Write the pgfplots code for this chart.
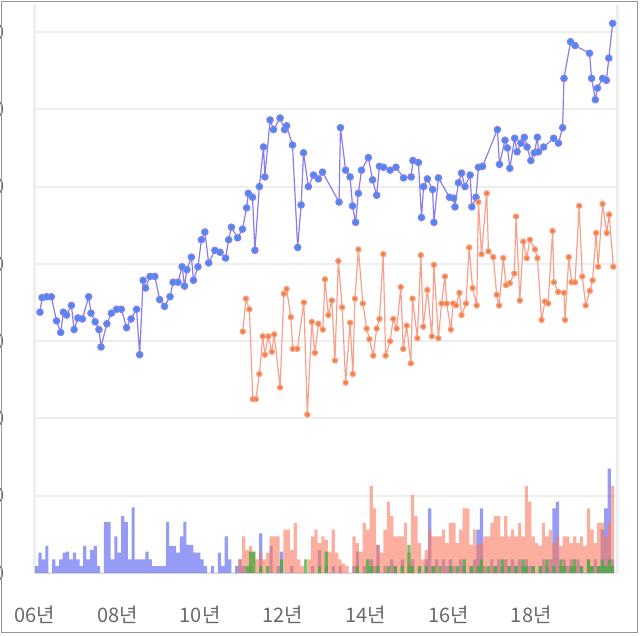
\documentclass[border=0pt]{standalone}
\usepackage{fontspec}
\newfontfamily\cjk{Noto Sans CJK KR}
\usepackage{pgfplots}
\usepackage{pgfplotstable}
\pgfplotsset{compat=1.18}
\definecolor{gridc}{RGB}{238,238,238}
\definecolor{blueline}{RGB}{135,125,240}
\definecolor{bluemark}{RGB}{70,140,235}
\definecolor{orline}{RGB}{248,160,140}
\definecolor{ormark}{RGB}{242,128,50}
\definecolor{bbar}{RGB}{80,90,238}
\definecolor{sbar}{RGB}{250,120,95}
\definecolor{gbar}{RGB}{50,175,50}
\definecolor{labc}{RGB}{105,105,105}
\definecolor{framec}{RGB}{150,150,150}

% monthly bars: m = months since Jan 2006
\pgfplotstableread{
m b s g
0 7 0 0
1 21 0 0
2 14 0 0
3 28 0 0
4 0 0 0
5 14 0 0
6 7 0 0
7 14 0 0
8 21 0 0
9 22 0 0
10 14 0 0
11 21 0 0
12 14 0 0
13 7 0 0
14 28 0 0
15 14 0 0
16 24 0 0
17 28 0 0
18 7 0 0
19 0 0 0
20 53 0 0
21 53 0 0
22 14 0 0
23 38 0 0
24 21 0 0
25 59 0 0
26 53 0 0
27 14 0 0
28 68 0 0
29 14 0 0
30 14 0 0
31 14 0 0
32 22 0 0
33 14 0 0
34 7 0 0
35 7 0 0
36 7 0 0
37 7 0 0
38 53 0 0
39 28 0 0
40 28 0 0
41 21 0 0
42 38 0 0
43 53 0 0
44 29 0 0
45 29 0 0
46 21 0 0
47 21 0 0
48 14 0 0
49 7 0 0
50 0 0 0
51 7 0 0
52 0 0 0
53 21 0 0
54 7 0 0
55 38 0 0
56 14 0 0
57 0 0 0
58 7 0 0
59 14 14 0
60 7 38 0
61 0 24 7
62 7 28 22
63 0 22 22
64 0 14 0
65 41 21 7
66 0 14 0
67 0 21 7
68 28 38 0
69 0 38 0
70 7 38 0
71 22 0 14
72 0 45 0
73 0 45 0
74 7 24 0
75 0 52 0
76 0 14 0
77 0 7 0
78 0 0 14
79 0 14 0
80 7 38 0
81 0 45 0
82 24 31 7
83 0 38 0
84 7 34 22
85 0 22 0
86 7 45 0
87 0 21 0
88 7 14 0
89 0 10 0
90 0 7 0
91 0 0 0
92 7 38 0
93 22 31 7
94 0 22 0
95 7 52 0
96 0 45 14
97 14 90 7
98 7 67 0
99 29 29 7
100 0 21 0
101 7 45 0
102 0 74 7
103 14 59 0
104 7 38 7
105 0 38 0
106 14 38 7
107 0 52 0
108 7 21 29
109 14 81 7
110 0 59 0
111 7 31 7
112 0 14 0
113 14 24 7
114 67 45 0
115 7 38 7
116 14 38 0
117 0 38 7
118 14 45 0
119 7 31 0
120 14 52 7
121 7 52 0
122 0 31 7
123 14 45 0
124 7 67 14
125 0 67 0
126 7 29 7
127 14 45 0
128 45 29 7
129 67 31 14
130 7 38 0
131 0 38 7
132 14 52 0
133 7 59 7
134 14 59 0
135 7 38 14
136 14 59 0
137 7 38 7
138 14 45 0
139 7 38 7
140 14 52 0
141 7 38 14
142 14 90 7
143 7 74 0
144 7 38 7
145 0 31 0
146 7 28 7
147 14 52 0
148 7 38 14
149 14 45 0
150 67 31 7
151 74 38 0
152 7 28 14
153 14 38 7
154 7 38 0
155 14 31 7
156 7 38 14
157 14 31 0
158 7 38 7
159 0 28 0
160 14 67 14
161 7 45 7
162 14 31 0
163 7 52 7
164 45 52 14
165 67 38 7
166 108 52 14
167 14 90 7
}\bars

\pgfplotstableread{
m y
1.0 270
1.6 285
2.9 286
4.3 286
5.8 261
7.0 249
7.8 270
8.7 267
10.1 277
10.9 252
12.0 264
13.3 263
15.1 286
15.8 269
17.0 260
18.1 252
18.7 234
20.4 258
21.7 269
23.2 273
24.6 273
26.1 254
27.4 263
29.0 273
29.9 226
30.9 303
31.6 295
32.9 307
34.3 307
35.7 283
37.1 276
38.7 286
39.6 301
41.0 301
42.2 317
42.9 297
43.6 314
44.9 327
45.5 303
46.8 317
47.8 345
48.8 353
49.9 321
51.7 334
53.2 332
54.8 326
55.7 345
56.5 358
58.3 347
59.7 356
60.9 378
61.4 393
62.6 389
63.3 334
64.6 400
65.8 441
66.2 410
67.7 469
68.7 459
70.6 471
71.9 459
72.5 463
74.2 443
75.7 337
76.7 381
77.4 435
78.8 400
80.3 412
81.7 408
82.9 415
87.7 384
88.1 461
89.6 417
90.9 410
91.6 380
92.5 363
93.3 393
94.2 417
96.2 430
97.4 407
98.6 391
99.4 421
100.6 420
102.5 417
104.2 420
106.4 409
108.6 410
109.1 427
110.7 425
111.6 368
112.2 400
113.3 408
114.8 397
115.2 363
116.5 409
119.7 389
120.9 388
121.3 379
122.3 404
123.2 414
124.2 400
125.7 412
126.2 379
127.4 389
128.1 420
129.3 421
133.6 459
134.2 423
135.8 448
136.5 440
137.2 419
138.6 450
139.3 436
140.4 445
141.4 451
142.2 441
143.3 427
144.3 435
145.2 451
145.5 436
147.0 441
149.9 450
151.3 445
152.5 461
152.9 512
154.8 550
156.1 546
160.3 538
160.9 512
162.0 490
162.6 502
164.1 512
165.2 510
165.9 533
167.0 569
}\blue

\pgfplotstableread{
m y
59.8 250
60.7 284
61.7 273
62.7 180
63.6 180
64.6 206
65.6 245
66.2 226
67.2 245
68.2 229
68.9 247
70.6 192
71.7 289
72.5 294
73.7 265
74.3 232
75.6 232
77.5 280
78.5 164
79.8 260
80.7 228
81.7 258
83.0 252
83.6 304
84.6 267
85.6 282
86.5 220
87.5 323
88.6 275
89.6 197
90.9 259
91.7 206
92.3 284
93.3 335
94.6 279
95.7 253
96.5 242
97.6 225
98.6 253
99.4 263
100.5 330
101.2 225
102.5 240
103.4 263
104.4 253
105.6 296
106.3 232
107.3 256
108.5 217
109.0 284
110.4 243
111.4 329
112.1 255
113.3 293
114.6 245
115.2 319
116.5 243
117.4 279
118.4 307
118.9 279
120.1 252
120.8 279
121.6 277
122.6 290
123.2 267
124.5 279
125.4 337
126.4 295
127.6 277
128.1 384
129.0 330
130.5 393
131.0 333
132.4 327
133.4 288
134.1 277
135.3 326
136.1 298
137.2 300
138.5 310
139.0 369
140.1 282
141.1 343
142.1 326
143.0 345
144.5 335
145.2 326
146.4 262
147.4 281
148.3 279
149.6 354
150.0 301
151.2 291
152.9 290
153.2 262
154.3 327
155.1 301
156.1 301
157.3 380
158.2 307
159.2 277
160.4 292
161.2 303
162.2 352
162.8 317
164.1 382
165.3 352
166.0 371
167.2 317
}\orange

\begin{document}
\begin{tikzpicture}
\begin{axis}[
  at={(0pt,0pt)}, anchor=south west,
  scale only axis, width=291.5pt, height=284pt,
  xmin=-0.5, xmax=168.5, ymin=0, ymax=588,
  axis line style={draw=none},
  clip=false,
  ytick={0,80,...,560},
  yticklabels={0,80,160,240,320,400,480,560},
  xtick={0,24,...,144},
  xticklabels={06년,08년,10년,12년,14년,16년,18년},
  ymajorgrids, major grid style={gridc, line width=1pt},
  tick style={draw=none},
  ticklabel style={font=\cjk\fontsize{10}{12}\selectfont, text=labc},
  /pgf/number format/assume math mode=true,
  yticklabel style={anchor=east, xshift=-11.5pt},
  xticklabel style={anchor=north, yshift=-13pt, xshift=-1pt},
]
\draw[gridc, line width=1.5pt] (rel axis cs:0,0) -- (rel axis cs:0,1);
\draw[gridc, line width=1.5pt] (rel axis cs:1,0) -- (rel axis cs:1,1);
\addplot[ybar, bar shift=0pt, bar width=1.6pt, fill=bbar, fill opacity=0.6, draw=none] table[x=m, y=b] {\bars};
\addplot[ybar, bar shift=0pt, bar width=1.6pt, fill=sbar, fill opacity=0.6, draw=none] table[x=m, y=s] {\bars};
\addplot[ybar, bar shift=0pt, bar width=1.6pt, fill=gbar, fill opacity=0.7, draw=none] table[x=m, y=g] {\bars};
\addplot[blueline, line width=0.6pt, mark=*, mark size=1.6pt, mark options={draw=none, fill=bluemark}] table[x=m, y=y] {\blue};
\addplot[orline, line width=0.6pt, mark=*, mark size=1.3pt, mark options={draw=none, fill=ormark}] table[x=m, y=y] {\orange};
\end{axis}
\draw[framec, line width=0.5pt] (-16.4pt,-29.5pt) rectangle (301.1pt,285.5pt);
\pgfresetboundingbox
\path[use as bounding box] (-17.4pt,-31pt) rectangle (302.6pt,286.5pt);
\end{tikzpicture}
\end{document}
